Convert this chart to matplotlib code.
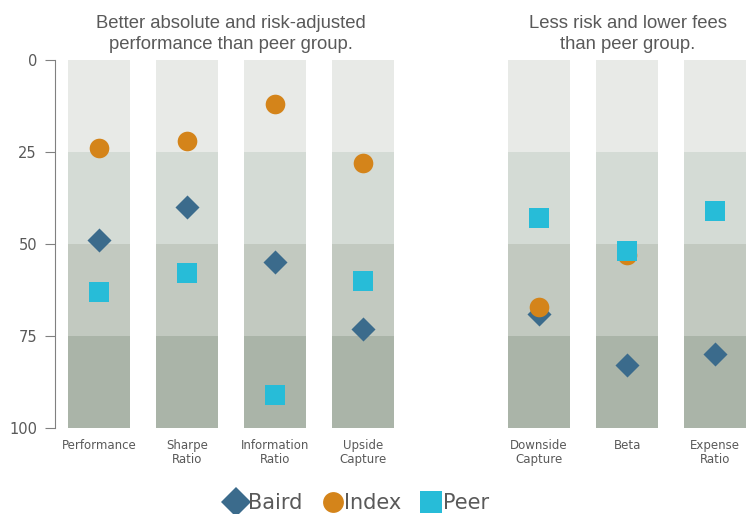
import matplotlib.pyplot as plt
from matplotlib.lines import Line2D

# данные
categories = ["Performance", "Sharpe\nRatio", "Information\nRatio", "Upside\nCapture",
              "Downside\nCapture", "Beta", "Expense\nRatio"]
positions = [0, 1, 2, 3, 5, 6, 7]
baird = [49, 40, 55, 73, 69, 83, 80]
index = [24, 22, 12, 28, 67, 53, None]
peer = [63, 58, 91, 60, 43, 52, 41]
bands = [0, 25, 50, 75]

band_colours = ["#e8eae7", "#d4dbd5", "#c2c9c0", "#aab4a8"]
c_baird = "#3b6b8c"
c_index = "#d4841a"
c_peer = "#27bcd8"
grey = "#595959"

fig = plt.figure(figsize=(7.46, 5.14), dpi=100)
ax = fig.add_axes([55 / 746, 86 / 514, 691 / 746, 368 / 514])

# фоновые полосы квартилей
for b, col in zip(bands, band_colours):
    ax.bar(positions, 25, bottom=b, width=0.7, color=col, zorder=1)

ix = [p for p, v in zip(positions, index) if v is not None]
iv = [v for v in index if v is not None]
ax.scatter(positions, baird, marker="D", s=150, color=c_baird, zorder=3, linewidths=0)
ax.scatter(ix, iv, marker="o", s=200, color=c_index, zorder=4, linewidths=0)
ax.scatter(positions, peer, marker="s", s=200, color=c_peer, zorder=5, linewidths=0)

ax.set_xlim(-0.5, 7.35)
ax.set_ylim(100, 0)
ax.set_yticks([0, 25, 50, 75, 100])
ax.set_xticks(positions)
ax.set_xticklabels(categories, fontsize=8.5, color=grey, linespacing=1.1)
ax.tick_params(axis="x", length=0, pad=8)
ax.tick_params(axis="y", length=7, color="#808080", labelsize=10.5, labelcolor=grey, pad=6)
for s in ["top", "right", "bottom"]:
    ax.spines[s].set_visible(False)
ax.spines["left"].set_color("#808080")

fig.text(231 / 746, 1 - 34 / 514, "Better absolute and risk-adjusted\nperformance than peer group.",
         ha="center", va="center", fontsize=13.3, color=grey, family="Liberation Sans",
         linespacing=1.3)
fig.text(628 / 746, 1 - 34 / 514, "Less risk and lower fees\nthan peer group.",
         ha="center", va="center", fontsize=13.3, color=grey, family="Liberation Sans",
         linespacing=1.3)

handles = [
    Line2D([], [], marker="D", ls="", color=c_baird, markersize=15, markeredgewidth=0),
    Line2D([], [], marker="o", ls="", color=c_index, markersize=15, markeredgewidth=0),
    Line2D([], [], marker="s", ls="", color=c_peer, markersize=16, markeredgewidth=0),
]
leg = fig.legend(handles, ["Baird", "Index", "Peer"], loc="lower center",
                 bbox_to_anchor=(0.48, -0.035), ncol=3, frameon=False, fontsize=15,
                 handlelength=0.9, handletextpad=0.1, columnspacing=1.0)
for t in leg.get_texts():
    t.set_color(grey)

fig.savefig("out.png", dpi=100)
